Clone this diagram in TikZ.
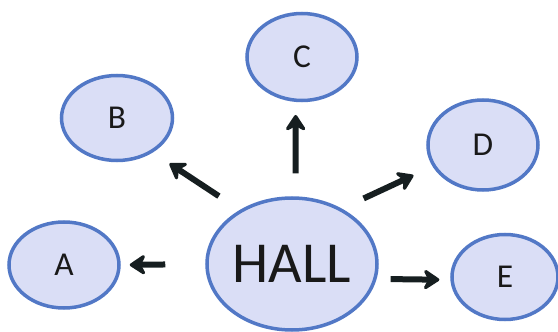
\documentclass[tikz,border=0pt]{standalone}
\usepackage{fontspec}
\setmainfont{Carlito}
\usepackage{xcolor}
\usepackage{tikz}
\usetikzlibrary{arrows.meta, shapes.geometric}
\definecolor{roomfill}{RGB}{218,222,246}
\definecolor{roomline}{RGB}{82,120,198}
\definecolor{arrowink}{RGB}{22,30,32}

\begin{document}
\begin{tikzpicture}[->,
				>={Stealth[length=0.38cm, width=0.5cm, inset=0.13cm, round]},
				line width=0.12cm,
				room/.style={ellipse, draw=roomline, fill=roomfill, line width=0.07cm, inner sep=0pt, text=black!90, font=\fontsize{19}{22}\selectfont, minimum width=2.2cm, minimum height=1.72cm}]
				\useasboundingbox (0,0) rectangle (11.16,-6.64);
				\node at (5.84,-5.28) (hall) [room, minimum width=3.4cm, minimum height=2.64cm, font=\fontsize{33}{36}\selectfont] {HALL};
				\node at (1.28,-5.30) (a) [room] {A};
				\node at (2.34,-2.36) (b) [room, minimum width=2.22cm, minimum height=1.7cm] {B};
				\node at (6.04,-1.14) (c) [room, minimum height=1.74cm] {C};
				\node at (9.66,-2.90) (d) [room, minimum height=1.8cm] {D};
				\node at (10.10,-5.54) (e) [room, minimum width=2.12cm, minimum height=1.7cm] {E};
				\draw[arrowink, shorten <=0.8cm, shorten >=0.18cm] (hall.west) -- (a.east);
				\draw[arrowink, shorten <=0.5cm, shorten >=0.4cm] (hall.134) -- (b.316);
				\draw[arrowink, shorten <=0.46cm, shorten >=0.26cm] (hall.87) -- (c.262);
				\draw[arrowink, shorten <=0.48cm, shorten >=0.42cm] (hall.48) -- (d.203);
				\draw[arrowink, shorten <=0.28cm, shorten >=0.22cm] (hall.350) -- (e.183);
\end{tikzpicture}
\end{document}
